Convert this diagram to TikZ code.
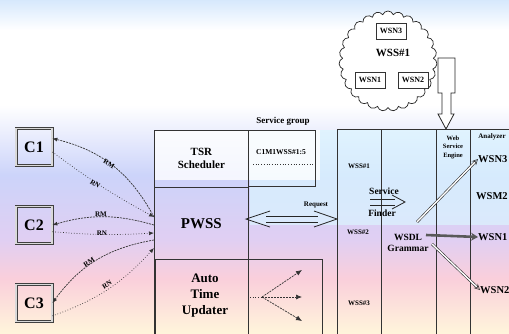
\documentclass[tikz,border=0pt]{standalone}
\usepackage{fontspec}
\setmainfont{Liberation Serif}
\usetikzlibrary{shapes.symbols,arrows.meta}
\definecolor{bgblue}{rgb}{0.84,0.91,0.99}
\definecolor{bglav}{rgb}{0.80,0.83,0.98}
\definecolor{bglavpink}{rgb}{0.88,0.81,0.95}
\definecolor{bgpink}{rgb}{0.98,0.81,0.86}
\definecolor{bgcream}{rgb}{1.0,0.96,0.86}
\definecolor{bgcyan}{rgb}{0.86,0.96,1.0}
\begin{document}
\begin{tikzpicture}[x=1pt,y=-1pt,font=\bfseries,
  line/.style={draw=black!80,line width=0.8pt},
  cbox/.style={draw=black!75,line width=0.8pt,double=gray!30,double distance=1.4pt,minimum width=36pt,minimum height=37pt,inner sep=0pt,font=\fontsize{16}{16}\bfseries},
  cell/.style={line,anchor=north west,inner sep=0pt},
  wbox/.style={draw=black!80,line width=0.8pt,fill=white,minimum width=30pt,minimum height=16pt,inner sep=0pt,font=\fontsize{8}{8}\bfseries},
  lbl/.style={inner sep=0pt,font=\fontsize{7}{7}\bfseries},
  rmline/.style={black!80,line width=0.7pt,dash pattern=on 2pt off 1pt,-{Latex[length=5pt,width=4pt]}},
  rnline/.style={black!80,line width=0.7pt,dotted,-{Latex[length=5pt,width=4pt]}},
  fan/.style={black!80,line width=0.7pt,dash pattern=on 2pt off 1pt,-{Latex[length=6pt,width=5pt]}},
  ]
\useasboundingbox (0,0) rectangle (509,333);
% background
\fill[white] (0,0) rectangle (509,333);
\shade[top color=bgblue,bottom color=white] (0,0) rectangle (509,30);
\shade[top color=white,bottom color=bglav] (0,105) rectangle (509,175);
\shade[top color=bglav,bottom color=bglavpink] (0,175) rectangle (509,240);
\shade[top color=bglavpink,bottom color=bgpink] (0,240) rectangle (509,278);
\shade[top color=bgpink,bottom color=bgcream] (0,278) rectangle (509,333);
\fill[bgcyan,opacity=0.7] (250,130) rectangle (509,225);
\fill[white,opacity=0.8] (154,130) rectangle (320,180);

% clients
\node[cbox] (c1) at (34,147) {C1};
\node[cbox] (c2) at (34,225) {C2};
\node[cbox] (c3) at (34,303) {C3};

% left block
\node[cell,minimum width=94pt,minimum height=57pt,align=center,font=\fontsize{11}{13}\bfseries] (tsr) at (154,130) {TSR\\Scheduler};
\node[cell,minimum width=67pt,minimum height=56pt] (sgbox) at (248,130) {};
\node[cell,minimum width=94pt,minimum height=72pt,font=\fontsize{15}{15}\bfseries] (pwss) at (154,187) {PWSS};
\node[cell,minimum width=167pt,minimum height=80pt] (atu) at (155,259) {};
\draw[line] (248,187) -- (248,340);
\draw[line] (154,259) -- (154,340);
\node[font=\fontsize{13}{16}\bfseries,align=center,inner sep=0pt] (atutext) at (205,296) {Auto\\Time\\Updater};
\node[font=\fontsize{9}{9}\bfseries,inner sep=0pt] (sglbl) at (283,121) {Service group};
\node[font=\fontsize{7.5}{7.5}\bfseries,inner sep=0pt] (c1m1) at (281,152) {C1M1WSS\#1:5};
\coordinate (dl1) at (253,164);
\coordinate (dl2) at (313,164);
\draw[black!80,line width=0.7pt,dotted] (dl1) -- (dl2);

% fan arrows
\coordinate (fs) at (250,297);
\coordinate (fc) at (262,297);
\coordinate (f1) at (302,270);
\coordinate (f2) at (302,297);
\coordinate (f3) at (302,321);
\draw[black!80,line width=0.7pt,dotted] (fs) -- (fc);
\draw[fan] (fc) -- (f1);
\draw[fan] (fc) -- (f2);
\draw[fan] (fc) -- (f3);

% PWSS side points
\coordinate (p1) at (154,217);
\coordinate (p2) at (154,225);
\coordinate (p3) at (154,233);
\coordinate (p4) at (154,240);
\coordinate (p5) at (154,248);
\draw[rmline] (p1) to[bend right=24] (c1.25);
\draw[rnline] (c1.-15) to[bend right=4] (p1);
\draw[rmline] (p2) to[bend right=16] (c2.east);
\draw[rnline] (c2.-20) to[bend right=4] (p3);
\draw[rmline] (p4) to[bend right=22] (c3.east);
\draw[rnline] (c3.-35) to[bend right=14] (p5);
\node[lbl,rotate=-33] (l1) at (109,164) {RM};
\node[lbl,rotate=-33] (l2) at (95,184) {RN};
\node[lbl] (l3) at (101,214) {RM};
\node[lbl] (l4) at (102,233) {RN};
\node[lbl,rotate=33] (l5) at (89,262) {RM};
\node[lbl,rotate=33] (l6) at (107,285) {RN};

% request double arrow
\node[lbl] (req) at (316,205) {Request};
\draw[black!85,line width=0.8pt] (266,216) -- (318,216) (266,222) -- (318,222);
\draw[black!85,line width=0.8pt] (270,211) -- (246,219) -- (270,227);
\draw[black!85,line width=0.8pt] (314,211) -- (337,219) -- (314,227);

% right block
\node[cell,minimum width=180pt,minimum height=215pt] (rbox) at (337,129) {};
\draw[line] (381,129) -- (381,340);
\draw[line] (436,129) -- (436,340);
\draw[line] (470,129) -- (470,340);
\node[lbl] (w1) at (359,166) {WSS\#1};
\node[lbl] (w2) at (358,232) {WSS\#2};
\node[lbl] (w3) at (359,303) {WSS\#3};
\node[font=\fontsize{9.5}{9.5}\bfseries,inner sep=0pt] (sf1) at (384,191) {Service};
\node[font=\fontsize{9.5}{9.5}\bfseries,inner sep=0pt] (sf2) at (382,213) {Finder};
\draw[black!85,line width=0.8pt] (370,199) -- (395,199) (370,205) -- (395,205);
\draw[black!85,line width=0.8pt] (392,195) -- (405,202) -- (392,209);
\node[font=\fontsize{9.5}{11}\bfseries,inner sep=0pt,align=center] (wsdl) at (408,243) {WSDL\\Grammar};
\node[font=\fontsize{6.5}{8.5}\bfseries,inner sep=0pt,align=center] (wse) at (453,147) {Web\\Service\\Engine};
\node[lbl] (ana) at (492,137) {Analyzer};
\node[font=\fontsize{10.5}{10.5}\bfseries,inner sep=0pt,anchor=west] (n3) at (478,159) {WSN3};
\node[font=\fontsize{10.5}{10.5}\bfseries,inner sep=0pt,anchor=west] (m2) at (476,196) {WSM2};
\node[font=\fontsize{10.5}{10.5}\bfseries,inner sep=0pt,anchor=west] (n1) at (478,237) {WSN1};
\node[font=\fontsize{10.5}{10.5}\bfseries,inner sep=0pt,anchor=west] (n2) at (480,290) {WSN2};
\coordinate (a3s) at (417,222);
\coordinate (a2s) at (432,244);
\coordinate (a1s) at (426,235);
\draw[black!80,line width=0.6pt,double=white,double distance=1.4pt,-{Stealth[open,length=6pt,width=6pt]}] (a3s) -- (n3.west);
\draw[black!80,line width=0.6pt,double=white,double distance=1.4pt,-{Stealth[open,length=6pt,width=6pt]}] (a2s) -- (n2.west);
\draw[black!65,line width=2.6pt,-{Stealth[length=7pt,width=8pt]}] (a1s) -- (n1.west);

% cloud
\node[cloud,draw=black!85,line width=0.7pt,fill=white,cloud puffs=27,cloud puff arc=140,aspect=1,minimum width=98pt,minimum height=100pt,inner sep=0pt] (cloud) at (388,61) {};
\node[font=\fontsize{11}{11}\bfseries,inner sep=0pt] (cw) at (393,53) {WSS\#1};
\node[wbox] (cn3) at (391,31) {WSN3};
\node[wbox] (cn1) at (370,80) {WSN1};
\node[wbox] (cn2) at (413,80) {WSN2};
% hollow arrow from cloud down to engine
\draw[black!85,line width=0.8pt,fill=white] (438,58) -- (455,58) -- (455,93) -- (451,93) -- (451,114) -- (454,114) -- (446,129) -- (438,114) -- (442,114) -- (442,93) -- (438,93) -- cycle;
\end{tikzpicture}
\end{document}
